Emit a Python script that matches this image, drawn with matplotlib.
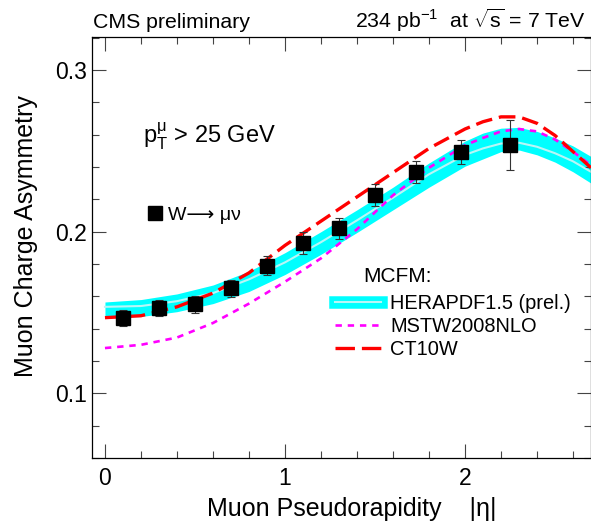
import matplotlib as mpl
mpl.use("Agg")
import matplotlib.pyplot as plt
from matplotlib.ticker import MultipleLocator
from matplotlib.lines import Line2D

mpl.rcParams['font.family'] = ['Liberation Sans', 'DejaVu Sans']
mpl.rcParams['mathtext.fontset'] = 'custom'
mpl.rcParams['mathtext.rm'] = 'Liberation Sans'
mpl.rcParams['mathtext.it'] = 'Liberation Sans:italic'
mpl.rcParams['mathtext.sf'] = 'Liberation Sans'
mpl.rcParams['lines.scale_dashes'] = False

# CMS data: muon charge asymmetry vs |eta|
eta = [0.1, 0.3, 0.5, 0.7, 0.9, 1.1, 1.3, 1.5, 1.725, 1.975, 2.25]
asym = [0.1468, 0.153, 0.155, 0.165, 0.179, 0.1928, 0.202, 0.2227, 0.237, 0.249, 0.2537]
asym_err = [0.005, 0.005, 0.0052, 0.0054, 0.006, 0.0068, 0.0064, 0.0068, 0.0068, 0.0074, 0.0155]

# MCFM predictions
eta_th = [0.0, 0.2, 0.4, 0.6, 0.8, 1.0, 1.2, 1.4, 1.6, 1.8, 2.0, 2.1, 2.2, 2.3, 2.4, 2.5, 2.6, 2.7]
hera_cen = [0.1535, 0.154, 0.157, 0.162, 0.1705, 0.181, 0.1935, 0.207, 0.221, 0.2355, 0.2475, 0.2515,
            0.2545, 0.255, 0.2525, 0.2485, 0.2435, 0.237]
hera_lo = [0.1466, 0.1475, 0.1505, 0.1555, 0.163, 0.1735, 0.186, 0.1995, 0.2135, 0.2275, 0.2405, 0.245,
           0.2495, 0.2505, 0.2475, 0.243, 0.237, 0.230]
hera_hi = [0.1565, 0.158, 0.1615, 0.167, 0.1755, 0.187, 0.200, 0.2135, 0.2275, 0.2425, 0.256, 0.261,
           0.264, 0.2645, 0.262, 0.258, 0.253, 0.2465]
mstw = [0.128, 0.130, 0.1345, 0.1435, 0.1555, 0.169, 0.1835, 0.2015, 0.2225, 0.2395, 0.2535, 0.258,
        0.262, 0.2635, 0.262, 0.257, 0.2495, 0.241]
ct10w = [0.1468, 0.148, 0.1535, 0.162, 0.1745, 0.1915, 0.2065, 0.2215, 0.2365, 0.2515, 0.2635, 0.268,
         0.271, 0.271, 0.267, 0.2595, 0.2495, 0.2395]

fig = plt.figure(figsize=(5.91, 5.21), dpi=100)
ax = fig.add_axes([92/591., 63/521., 498.5/591., 421/521.])

cyan = '#00ffff'
light = '#b8f6f6'
ax.fill_between(eta_th, hera_lo, hera_hi, color=cyan, lw=0, zorder=1)
ax.plot(eta_th, hera_cen, color=light, lw=1.5, zorder=2)
ax.plot(eta_th, mstw, color='#ff00ff', lw=1.9, dashes=(4.6, 4.2), zorder=3)
ax.plot(eta_th, ct10w, color='#ff0000', lw=2.4, dashes=(12, 5), zorder=4)
ax.errorbar(eta, asym, yerr=asym_err, fmt='s', color='k', ms=9.6, ecolor='#333333',
            elinewidth=0.8, capsize=3.2, capthick=0.8, zorder=5)

ax.set_xlim(-0.072, 2.697)
ax.set_ylim(0.06, 0.3204)
ax.xaxis.set_major_locator(MultipleLocator(1))
ax.xaxis.set_minor_locator(MultipleLocator(0.2))
ax.yaxis.set_major_locator(MultipleLocator(0.1))
ax.yaxis.set_minor_locator(MultipleLocator(0.02))
ax.tick_params(which='both', direction='in', top=True, right=True, width=0.8, color='#444444')
ax.tick_params(which='major', length=10)
ax.tick_params(which='minor', length=5)
ax.tick_params(axis='x', labelsize=16.5, pad=6.5)
ax.tick_params(axis='y', labelsize=16.5, pad=3.5)
for s in ax.spines.values():
    s.set_linewidth(0.9)

fig.text(33.3/591., 1-236/521., "Muon Charge Asymmetry", fontsize=18, rotation=90,
         rotation_mode='anchor', ha='center', va='baseline')
fig.text(351.5/591., 1-516/521., "Muon Pseudorapidity    |η|", fontsize=18, ha='center', va='baseline')

fig.text(93/591., 1-28.3/521., "CMS preliminary", fontsize=15.3, va='baseline')
fig.text(586/591., 1-28.3/521., r"234 pb$^{\mathrm{-1}}$  at $\sqrt{\mathrm{s}}$ = 7 TeV", fontsize=15.3,
         ha='right', va='baseline')

ax.text((143-92)/498., (458-143.3)/421., r"p$_{\mathrm{T}}^{\mathrm{\mu}}$ > 25 GeV", fontsize=17,
        transform=ax.transAxes, va='baseline')
ax.text((363-92)/498., (458-281.7)/421., "MCFM:", fontsize=15, transform=ax.transAxes, va='baseline')

w_handle = Line2D([], [], marker='s', ms=9.6, color='k', ls='none')
leg1 = ax.legend([w_handle], ["W\u27f6 \u03bc\u03bd"], loc='center left',
                 bbox_to_anchor=((148-92)/498., (458-215)/421.), frameon=False, fontsize=14,
                 handlelength=0.7, handletextpad=0.35, borderpad=0, borderaxespad=0)
ax.add_artist(leg1)

band_h = (Line2D([], [], color=cyan, lw=9), Line2D([], [], color=light, lw=1.5))
mstw_h = Line2D([], [], color='#ff00ff', lw=1.9, dashes=(4.6, 4.2))
ct_h = Line2D([], [], color='#ff0000', lw=2.4, dashes=(14, 5))
ax.legend([band_h, mstw_h, ct_h], ["HERAPDF1.5 (prel.)", "MSTW2008NLO", "CT10W"], loc='upper left',
          bbox_to_anchor=((335-92)/498., (458-294)/421.), frameon=False, fontsize=14.4,
          handlelength=2.3, handletextpad=0.45, labelspacing=0.2, borderpad=0, borderaxespad=0)

plt.savefig("out.png", dpi=100)
